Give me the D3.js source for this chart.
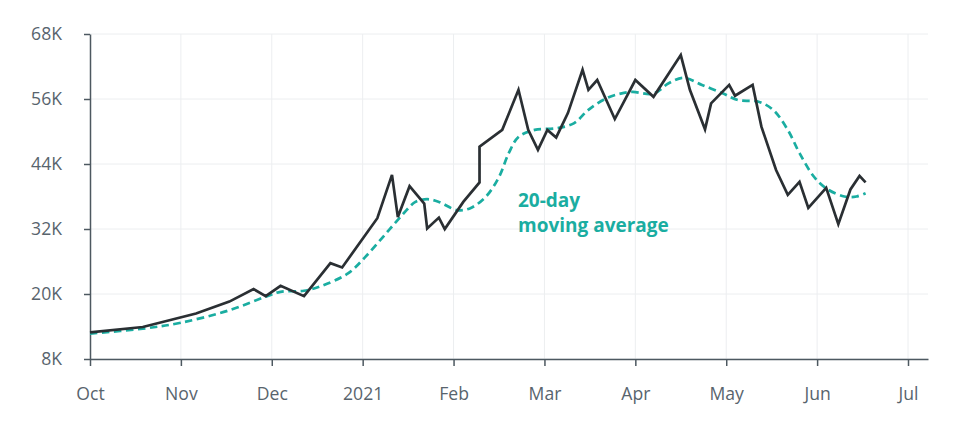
<!DOCTYPE html>
<html>
<head>
<meta charset="utf-8">
<script src="https://cdn.jsdelivr.net/npm/d3@7/dist/d3.min.js"></script>
<style>
  html, body { margin: 0; padding: 0; background: #fff; }
  svg { display: block; font-family: "Open Sans", "Noto Sans", sans-serif; }
</style>
</head>
<body>
<svg id="chart" width="958" height="433"></svg>
<script>
// ---- data ----
const monthLabels = ["Oct", "Nov", "Dec", "2021", "Feb", "Mar", "Apr", "May", "Jun", "Jul"];
const yTicks = [8, 20, 32, 44, 56, 68]; // thousands

const priceDates = [
  "2020-10-01","2020-10-19","2020-11-06","2020-11-17","2020-11-25","2020-11-29",
  "2020-12-04","2020-12-12","2020-12-21","2020-12-25",
  "2021-01-06","2021-01-11","2021-01-13","2021-01-17","2021-01-22","2021-01-23","2021-01-27","2021-01-29",
  "2021-02-04","2021-02-09","2021-02-09","2021-02-16","2021-02-21","2021-02-24","2021-02-27",
  "2021-03-02","2021-03-05","2021-03-09","2021-03-14","2021-03-16","2021-03-19","2021-03-25",
  "2021-04-01","2021-04-07","2021-04-16","2021-04-19","2021-04-24","2021-04-26",
  "2021-05-02","2021-05-04","2021-05-10","2021-05-13","2021-05-18","2021-05-22","2021-05-26","2021-05-29",
  "2021-06-04","2021-06-08","2021-06-12","2021-06-15","2021-06-17"
];
const priceValues = [
  12.9, 13.9, 16.4, 18.6, 20.9, 19.6,
  21.5, 19.6, 25.7, 24.9,
  34.0, 42.0, 34.2, 39.9, 36.7, 32.1, 34.1, 32.0,
  37.0, 40.6, 47.2, 50.3, 57.7, 50.3, 46.6,
  50.3, 48.9, 53.4, 61.4, 57.7, 59.5, 52.3,
  59.5, 56.4, 64.1, 57.7, 50.4, 55.2,
  58.6, 56.6, 58.6, 50.9, 42.9, 38.3, 40.7, 35.9,
  39.6, 32.9, 39.3, 41.8, 40.6
];

const maDates = [
  "2020-10-01","2020-10-19","2020-11-01","2020-11-17","2020-11-29",
  "2020-12-04","2020-12-12","2020-12-18","2020-12-27",
  "2021-01-02","2021-01-09","2021-01-15","2021-01-19","2021-01-23","2021-01-27",
  "2021-02-02","2021-02-06","2021-02-11","2021-02-15","2021-02-18","2021-02-21","2021-02-26",
  "2021-03-05","2021-03-11","2021-03-16","2021-03-22","2021-03-27","2021-03-31",
  "2021-04-07","2021-04-12","2021-04-17","2021-04-23","2021-04-30",
  "2021-05-05","2021-05-12","2021-05-17","2021-05-22","2021-05-26","2021-05-31",
  "2021-06-04","2021-06-10","2021-06-14","2021-06-17"
];
const maValues = [
  12.7, 13.6, 14.7, 17.0, 19.5,
  20.4, 20.6, 21.5, 23.8,
  26.9, 31.2, 34.9, 37.0, 37.5, 37.0,
  35.5, 35.8, 38.0, 41.6, 46.0, 49.0, 50.3,
  50.6, 51.5, 54.0, 56.1, 57.0, 57.3,
  57.0, 58.9, 59.9, 58.6, 57.0,
  55.8, 55.5, 54.0, 50.3, 46.0, 41.6,
  39.5, 38.0, 38.0, 38.6
];

const annotation = ["20-day", "moving average"];

// ---- helpers ----
// fractional month index: Oct 2020 = 0, months equally spaced
function monthIndex(s) {
  const [yy, mm, dd] = s.split("-").map(Number);
  const dim = new Date(yy, mm, 0).getDate();
  return (yy - 2020) * 12 + (mm - 10) + (dd - 1) / dim;
}

const svg = d3.select("#chart");
const mLeft = 90, mRight = 928, mTop = 34, mBottom = 359;

const x = d3.scaleLinear().domain([0, 9 * (mRight - mLeft) / (908 - mLeft)]).range([mLeft, mRight]);
const y = d3.scaleLinear().domain([8, 68]).range([mBottom, mTop]);

const gridColor = "#eceef0";
const axisColor = "#4d5860";
const labelColor = "#58646d";
const teal = "#1aada1";

// grid
const grid = svg.append("g");
grid.selectAll("line.h").data(yTicks).join("line")
  .attr("class", "h")
  .attr("x1", mLeft).attr("x2", mRight)
  .attr("y1", d => y(d)).attr("y2", d => y(d))
  .attr("stroke", gridColor).attr("stroke-width", 1);
grid.selectAll("line.v").data(d3.range(1, monthLabels.length)).join("line")
  .attr("class", "v")
  .attr("x1", d => x(d)).attr("x2", d => x(d))
  .attr("y1", mTop).attr("y2", mBottom)
  .attr("stroke", gridColor).attr("stroke-width", 1);

// axes
const xAxis = d3.axisBottom(x)
  .tickValues(d3.range(monthLabels.length))
  .tickFormat(i => monthLabels[i])
  .tickSize(7).tickSizeOuter(0).tickPadding(21.5);
const gx = svg.append("g").attr("transform", `translate(0,${mBottom})`).call(xAxis);

const yAxis = d3.axisLeft(y)
  .tickValues(yTicks)
  .tickFormat(d => d + "K")
  .tickSize(6).tickSizeOuter(0).tickPadding(22);
const gy = svg.append("g").attr("transform", `translate(${mLeft},0)`).call(yAxis);

[gx, gy].forEach(g => {
  g.select(".domain").attr("stroke", axisColor).attr("stroke-width", 1.5);
  g.selectAll(".tick line").attr("stroke", axisColor).attr("stroke-width", 1.5);
  g.selectAll(".tick text").attr("fill", labelColor)
    .style("font-size", "17.6px").style("font-family", '"Open Sans", sans-serif');
});
gy.selectAll(".tick text").attr("text-anchor", "end");

// data series
const price = priceDates.map((d, i) => ({ m: monthIndex(d), v: priceValues[i] }));
const ma = maDates.map((d, i) => ({ m: monthIndex(d), v: maValues[i] }));

svg.append("path")
  .datum(ma)
  .attr("fill", "none")
  .attr("stroke", teal)
  .attr("stroke-width", 2.7)
  .attr("stroke-dasharray", "7.5,4.5")
  .attr("d", d3.line().x(d => x(d.m)).y(d => y(d.v)).curve(d3.curveCatmullRom.alpha(0.5)));

svg.append("path")
  .datum(price)
  .attr("fill", "none")
  .attr("stroke", "#2a2f33")
  .attr("stroke-width", 2.7)
  .attr("stroke-linejoin", "miter")
  .attr("d", d3.line().x(d => x(d.m)).y(d => y(d.v)));

// annotation
const ann = svg.append("text")
  .attr("x", 518).attr("y", 206.5)
  .attr("fill", teal)
  .style("font-size", "19px").style("font-weight", "700")
  .style("font-family", '"Open Sans", sans-serif');
ann.selectAll("tspan").data(annotation).join("tspan")
  .attr("x", 518).attr("dy", (d, i) => i === 0 ? 0 : 25)
  .text(d => d);
</script>
</body>
</html>
